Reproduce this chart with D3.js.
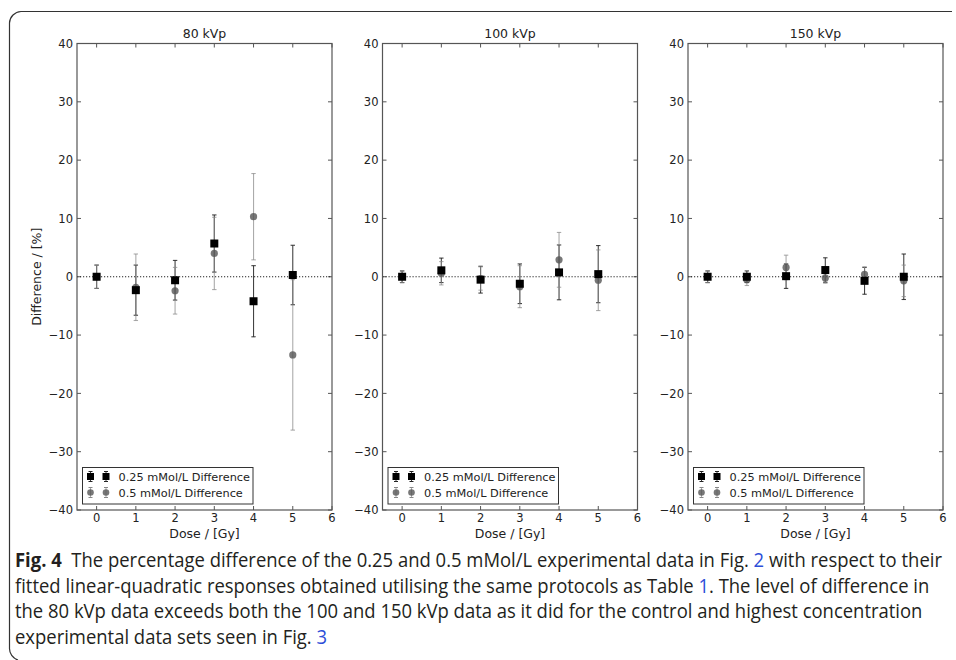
<!DOCTYPE html>
<html><head><meta charset="utf-8">
<script src="https://cdn.jsdelivr.net/npm/d3@7"></script>
<style>body{margin:0;background:#fff}svg{display:block}</style>
</head><body>
<svg id="c" width="956" height="660"></svg>
<script>
const doses = [0, 1, 2, 3, 4, 5];
const panelTitles = ["80 kVp", "100 kVp", "150 kVp"];
const xTicks = [0, 1, 2, 3, 4, 5, 6];
const yTicks = [-40, -30, -20, -10, 0, 10, 20, 30, 40];
const seriesNames = ["0.25 mMol/L Difference", "0.5 mMol/L Difference"];
// 0.25 mMol/L (squares)
const sq80 = [0, -2.3, -0.6, 5.7, -4.2, 0.3];
const sq80Err = [2.0, 4.3, 3.4, 4.9, 6.1, 5.1];
const sq100 = [0, 1.1, -0.5, -1.2, 0.75, 0.45];
const sq100Err = [1.0, 2.1, 2.3, 3.4, 4.7, 4.9];
const sq150 = [0, 0, 0.1, 1.15, -0.7, 0];
const sq150Err = [1.0, 1.0, 2.1, 2.1, 2.3, 3.9];
// 0.5 mMol/L (circles)
const ci80 = [0, -1.8, -2.4, 4.0, 10.3, -13.4];
const ci80Err = [2.0, 5.7, 4.0, 6.2, 7.4, 12.9];
const ci100 = [0, 0.6, -0.3, -1.7, 2.9, -0.6];
const ci100Err = [1.0, 2.0, 2.0, 3.6, 4.7, 5.2];
const ci150 = [0, -0.5, 1.6, -0.2, 0.4, -0.7];
const ci150Err = [1.0, 1.0, 2.1, 0.9, 1.3, 2.7];

const panels = [
  {title: panelTitles[0], sq: sq80, sqE: sq80Err, ci: ci80, ciE: ci80Err},
  {title: panelTitles[1], sq: sq100, sqE: sq100Err, ci: ci100, ciE: ci100Err},
  {title: panelTitles[2], sq: sq150, sqE: sq150Err, ci: ci150, ciE: ci150Err}
];

const svg = d3.select("#c");
const FONT = "DejaVu Sans, sans-serif";
svg.append("path")
  .attr("d", "M952,11.5 H21 A12,12 0 0 0 9.5,23 V648 A12,12 0 0 0 18,660")
  .attr("fill", "none").attr("stroke", "#333").attr("stroke-width", 1.2);

const lefts = [77, 382.5, 688];
const PW = 255, PTOP = 43.5, PBOT = 510;
const PH = PBOT - PTOP;
const x = d3.scaleLinear().domain([-0.5, 6]).range([0, PW]);
const y = d3.scaleLinear().domain([-40, 40]).range([PH, 0]);

panels.forEach((p, i) => {
  const g = svg.append("g").attr("transform", `translate(${lefts[i]},${PTOP})`);
  const tk = 4;
  xTicks.forEach(t => {
    g.append("line").attr("x1", x(t)).attr("x2", x(t)).attr("y1", PH).attr("y2", PH - tk).attr("stroke", "#555");
    g.append("line").attr("x1", x(t)).attr("x2", x(t)).attr("y1", 0).attr("y2", tk).attr("stroke", "#555");
    g.append("text").attr("x", x(t)).attr("y", PH + 12).attr("text-anchor", "middle")
      .attr("font-family", FONT).attr("font-size", 11.5).attr("fill", "#222").text(t);
  });
  yTicks.forEach(t => {
    g.append("line").attr("x1", 0).attr("x2", tk).attr("y1", y(t)).attr("y2", y(t)).attr("stroke", "#555");
    g.append("line").attr("x1", PW).attr("x2", PW - tk).attr("y1", y(t)).attr("y2", y(t)).attr("stroke", "#555");
    g.append("text").attr("x", -4).attr("y", y(t) + 4.2).attr("text-anchor", "end")
      .attr("font-family", FONT).attr("font-size", 11.5).attr("fill", "#222")
      .text(t < 0 ? "\u2212" + Math.abs(t) : t);
  });
  g.append("line").attr("x1", 0).attr("x2", PW).attr("y1", y(0)).attr("y2", y(0))
    .attr("stroke", "#222").attr("stroke-dasharray", "1.2,1.8").attr("stroke-width", 1);

  const cap = 2.2;
  function errbars(vals, errs, color, op) {
    const eg = g.append("g").attr("stroke", color).attr("stroke-opacity", op).attr("stroke-width", 1.1);
    doses.forEach((d, j) => {
      const cx = x(d), y1 = y(vals[j] + errs[j]), y2 = y(vals[j] - errs[j]);
      eg.append("line").attr("x1", cx).attr("x2", cx).attr("y1", y1).attr("y2", y2);
      eg.append("line").attr("x1", cx - cap).attr("x2", cx + cap).attr("y1", y1).attr("y2", y1);
      eg.append("line").attr("x1", cx - cap).attr("x2", cx + cap).attr("y1", y2).attr("y2", y2);
    });
  }
  errbars(p.sq, p.sqE, "#222", 0.85);
  errbars(p.ci, p.ciE, "#888", 0.7);
  g.selectAll(".ci").data(doses).enter().append("circle")
    .attr("cx", d => x(d)).attr("cy", (d, j) => y(p.ci[j])).attr("r", 3.6)
    .attr("fill", "#555").attr("fill-opacity", 0.8);
  g.selectAll(".sq").data(doses).enter().append("rect")
    .attr("x", d => x(d) - 4).attr("y", (d, j) => y(p.sq[j]) - 4)
    .attr("width", 8).attr("height", 8).attr("fill", "#000");

  g.append("rect").attr("x", 0).attr("y", 0).attr("width", PW).attr("height", PH)
    .attr("fill", "none").attr("stroke", "#555").attr("stroke-width", 1.2);

  g.append("text").attr("x", PW / 2).attr("y", -6).attr("text-anchor", "middle")
    .attr("font-family", FONT).attr("font-size", 12.5).attr("fill", "#222").text(p.title);
  g.append("text").attr("x", PW / 2).attr("y", PH + 27.5).attr("text-anchor", "middle")
    .attr("font-family", FONT).attr("font-size", 12.5).attr("fill", "#222").text("Dose / [Gy]");
  if (i === 0) {
    g.append("text").attr("transform", `translate(-36,${PH / 2}) rotate(-90)`).attr("text-anchor", "middle")
      .attr("font-family", FONT).attr("font-size", 12.5).attr("fill", "#222").text("Difference / [%]");
  }

  const lg = g.append("g").attr("transform", `translate(5.5,${PH - 42.5})`);
  lg.append("rect").attr("x", 0).attr("y", 0).attr("width", 170.5).attr("height", 36.5)
    .attr("fill", "#fff").attr("stroke", "#333").attr("stroke-width", 1);
  [0, 1].forEach(r => {
    const cy = 9 + r * 16;
    const col = r === 0 ? "#222" : "#888";
    [8, 23.5].forEach(mx => {
      lg.append("line").attr("x1", mx).attr("x2", mx).attr("y1", cy - 5).attr("y2", cy + 5)
        .attr("stroke", col).attr("stroke-opacity", r === 0 ? 0.85 : 0.7);
      lg.append("line").attr("x1", mx - 2).attr("x2", mx + 2).attr("y1", cy - 5).attr("y2", cy - 5).attr("stroke", col);
      lg.append("line").attr("x1", mx - 2).attr("x2", mx + 2).attr("y1", cy + 5).attr("y2", cy + 5).attr("stroke", col);
      if (r === 0) lg.append("rect").attr("x", mx - 3.5).attr("y", cy - 3.5).attr("width", 7).attr("height", 7).attr("fill", "#000");
      else lg.append("circle").attr("cx", mx).attr("cy", cy).attr("r", 3.3).attr("fill", "#555").attr("fill-opacity", 0.8);
    });
    lg.append("text").attr("x", 36).attr("y", cy + 4).attr("font-family", FONT).attr("font-size", 11.3)
      .attr("fill", "#222").text(seriesNames[r]);
  });
});

// caption
const capLines = [
  [{t: "Fig. 4", b: true}, {t: "  The percentage difference of the 0.25 and 0.5 mMol/L experimental data in Fig. "}, {t: "2", l: true}, {t: " with respect to their"}],
  [{t: "fitted linear-quadratic responses obtained utilising the same protocols as Table "}, {t: "1", l: true}, {t: ". The level of difference in"}],
  [{t: "the 80 kVp data exceeds both the 100 and 150 kVp data as it did for the control and highest concentration"}],
  [{t: "experimental data sets seen in Fig. "}, {t: "3", l: true}]
];
const capBase = [567, 593, 618.5, 644];
const capX = 15;
const texts = capLines.map((parts, k) => {
  const t = svg.append("text").attr("x", capX).attr("y", capBase[k])
    .attr("font-family", "Open Sans, sans-serif").attr("font-size", 19.5).attr("fill", "#231f20")
    .style("white-space", "pre");
  parts.forEach(pp => {
    t.append("tspan").text(pp.t).attr("font-weight", pp.b ? "bold" : null)
      .attr("fill", pp.l ? "#2d4ed8" : null);
  });
  return t;
});
const w0 = texts[0].node().getComputedTextLength();
const s = (943 - capX) / w0;
texts.forEach(t => t.attr("transform", `translate(${capX},0) scale(${s},1) translate(${-capX},0)`));
</script>
</body></html>
